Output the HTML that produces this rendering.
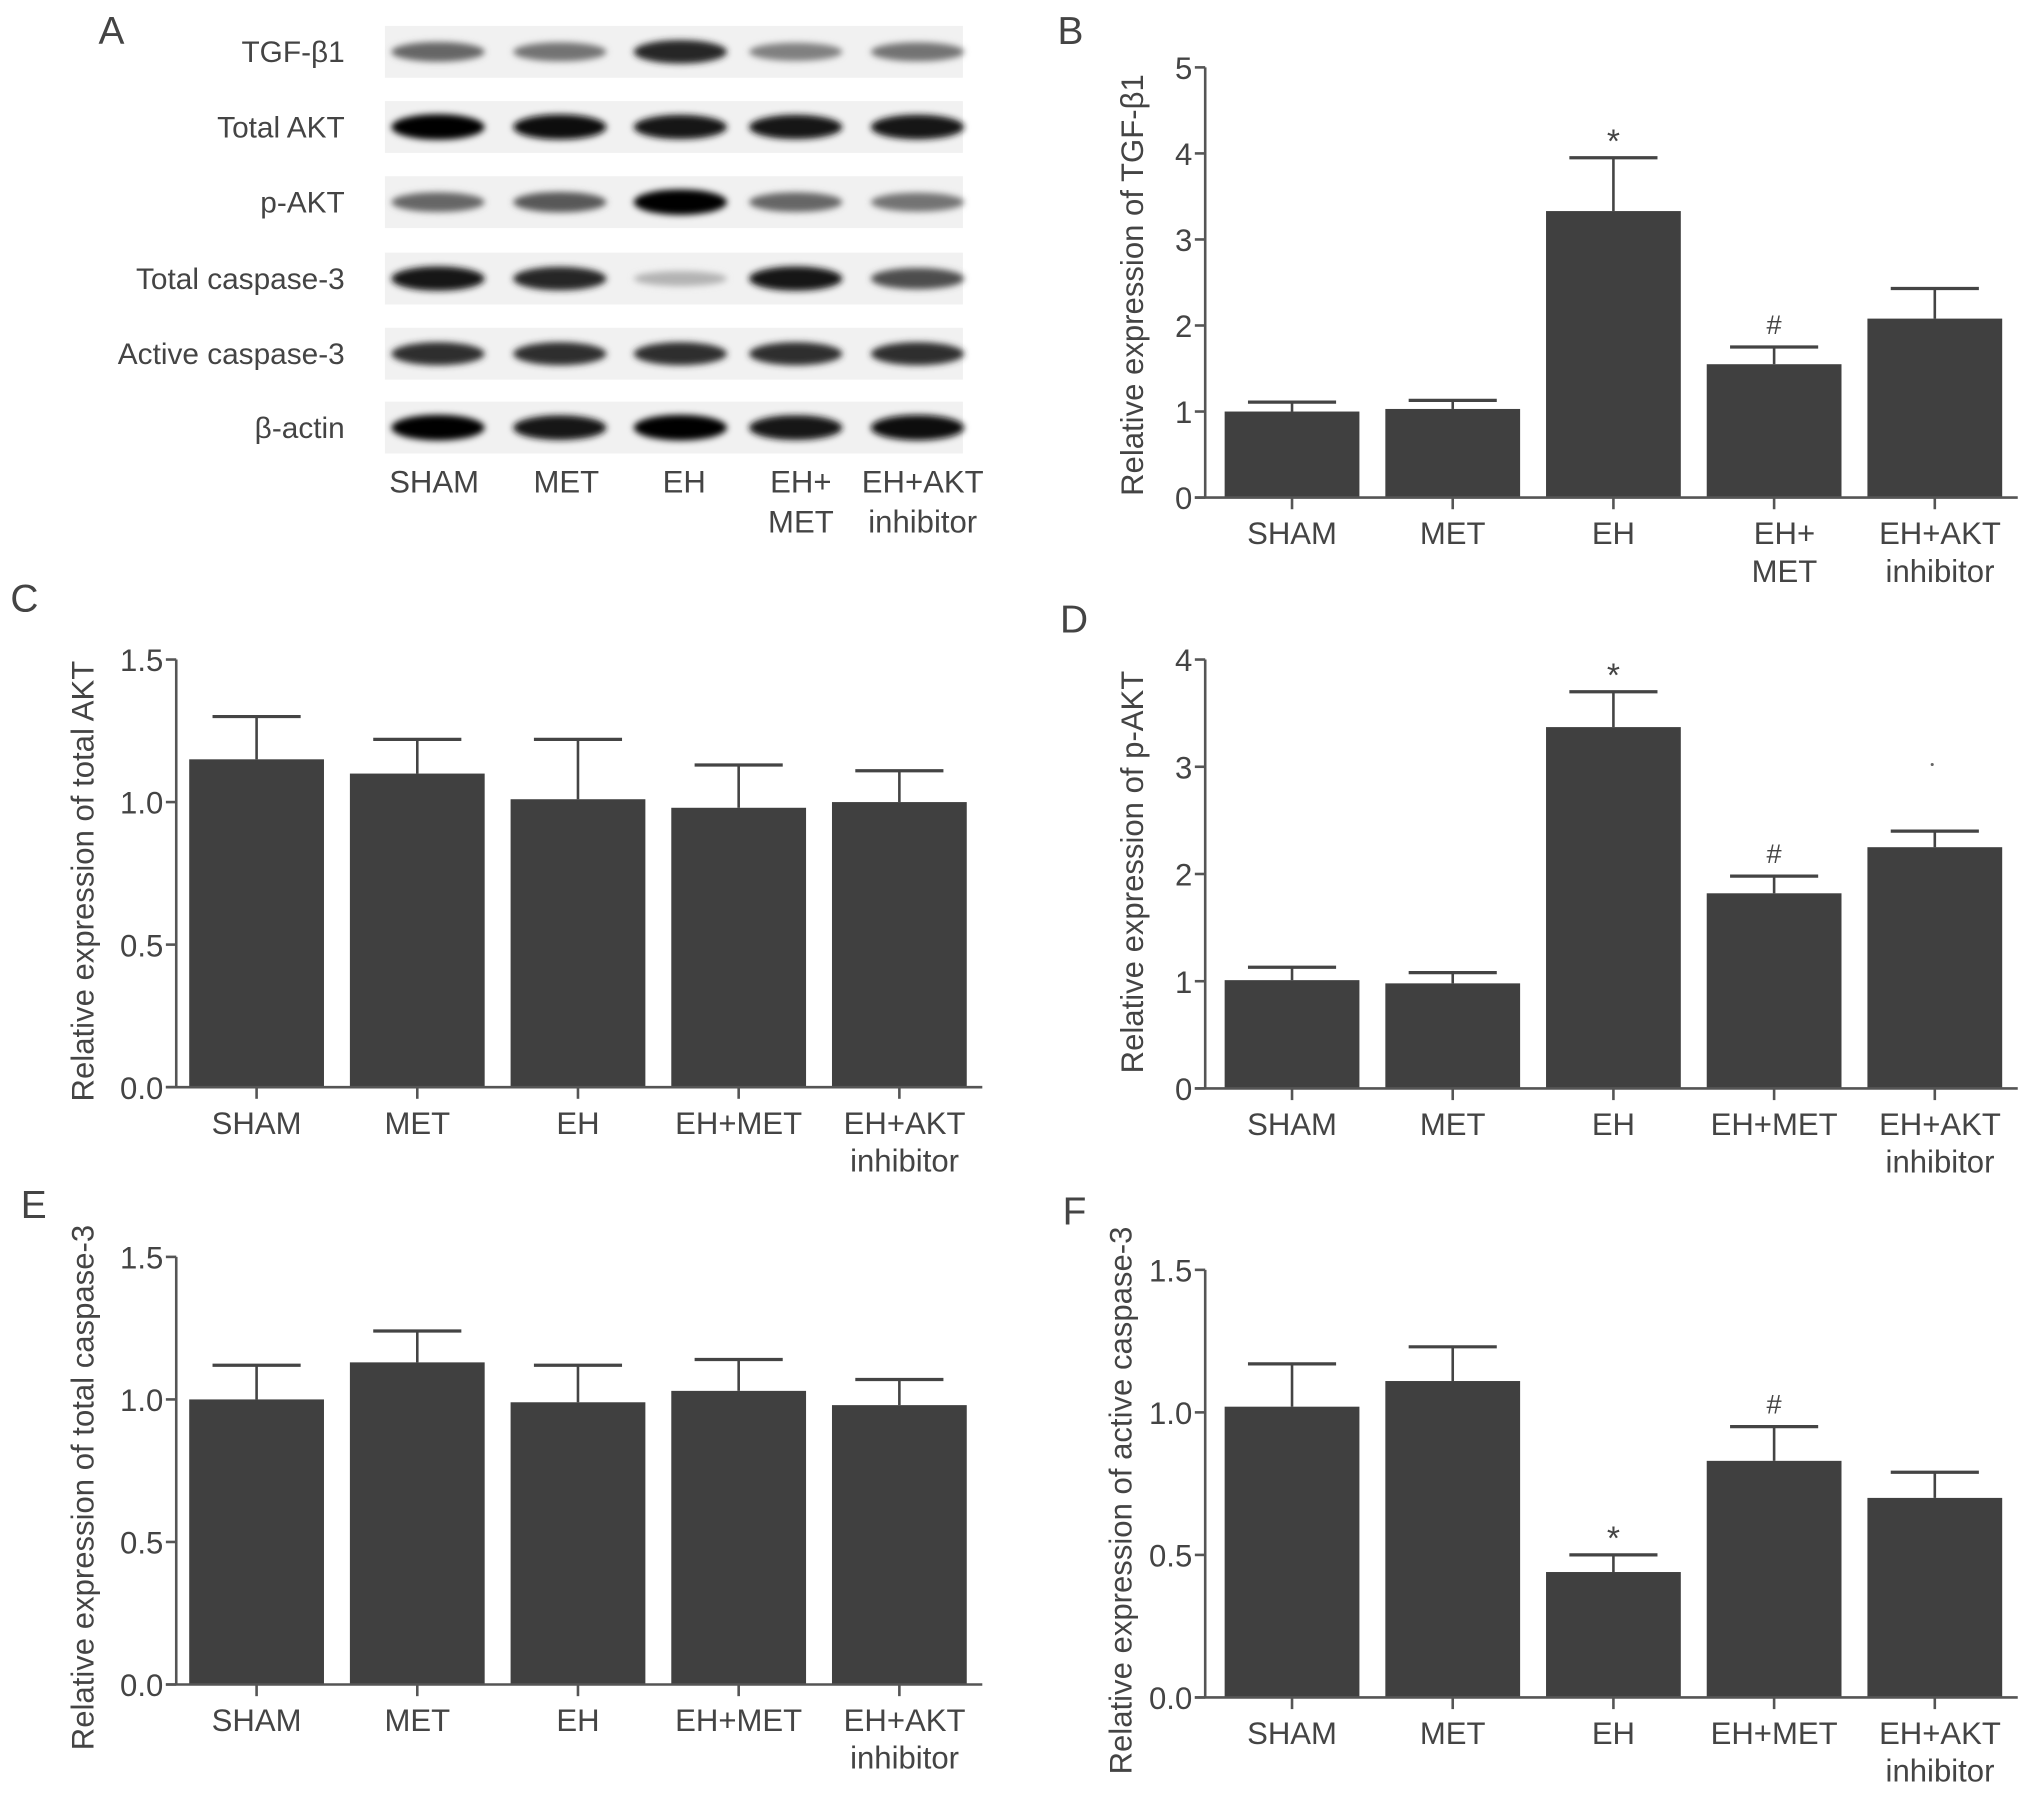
<!DOCTYPE html>
<html><head><meta charset="utf-8">
<style>
html,body{margin:0;padding:0;background:#fff;}
svg{display:block;}
text{font-family:"Liberation Sans","DejaVu Sans",sans-serif;fill:#444;}
</style></head>
<body>
<svg id="fig" width="2032" height="1805" viewBox="0 0 1568 1393" preserveAspectRatio="none" xmlns="http://www.w3.org/2000/svg">
<defs>
<filter id="blur" x="-20%" y="-100%" width="140%" height="300%"><feGaussianBlur stdDeviation="2.5"/></filter>
</defs>
<g id="panelA"></g>
<g id="charts"></g>
</svg>
<script>
const NS='http://www.w3.org/2000/svg';
const svg=document.getElementById('fig');
function mk(tag,attrs,parent,txt){const e=document.createElementNS(NS,tag);for(const k in attrs)e.setAttribute(k,attrs[k]);if(txt!==undefined)e.textContent=txt;(parent||svg).appendChild(e);return e;}

// ---- data ----
const groups=['SHAM','MET','EH','EH+MET','EH+AKT inhibitor'];
const tgfMean=[1.00,1.03,3.33,1.55,2.08];
const tgfErr=[0.11,0.10,0.62,0.20,0.35];
const aktMean=[1.15,1.10,1.01,0.98,1.00];
const aktErr=[0.15,0.12,0.21,0.15,0.11];
const paktMean=[1.01,0.98,3.37,1.82,2.25];
const paktErr=[0.12,0.10,0.33,0.16,0.15];
const casMean=[1.00,1.13,0.99,1.03,0.98];
const casErr=[0.12,0.11,0.13,0.11,0.09];
const actMean=[1.02,1.11,0.44,0.83,0.70];
const actErr=[0.15,0.12,0.06,0.12,0.09];
const ticks5=['0','1','2','3','4','5'];
const ticks4=['0','1','2','3','4'];
const ticks15=['0.0','0.5','1.0','1.5'];
const marksB=['','','*','#',''];
const marksF=['','','*','#',''];
const blotNames=['TGF-β1','Total AKT','p-AKT','Total caspase-3','Active caspase-3','β-actin'];
const blotIntensity=[[0.6,0.55,0.85,0.5,0.55],[0.98,0.95,0.9,0.9,0.92],[0.6,0.65,0.98,0.6,0.55],[0.9,0.85,0.3,0.9,0.7],[0.82,0.82,0.82,0.82,0.82],[0.99,0.92,0.99,0.93,0.97]];

// ---- panel A ----
const A=document.getElementById('panelA');
let t=mk('text',{x:76,y:34,'font-size':30},A,'A');
const rowsY=[40,98,156,215,273,330];
const laneX=[338,432,525,614,708];
blotNames.forEach((n,i)=>{
  const y=rowsY[i];
  const l=mk('text',{x:266,y:y+8,'font-size':23,'text-anchor':'end'},A,n);
  
  const s=mk('rect',{x:297,y:y-20,width:446,height:40,fill:'#f1f1f1'},A);
  
  laneX.forEach((cx,j)=>{
    const v=blotIntensity[i][j];
    const g=Math.round(255*(1-v));
    const b=mk('ellipse',{cx:cx,cy:y,rx:36,ry:4+6*v,fill:`rgb(${g},${g},${g})`,filter:'url(#blur)'},A);
    
  });
});
const aLab=[['SHAM',335,380],['MET',437,380],['EH',528,380],['EH+',618,380],['MET',618,411],['EH+AKT',712,380],['inhibitor',712,411]];
aLab.forEach(a=>{const e=mk('text',{x:a[1],y:a[2],'font-size':24,'text-anchor':'middle'},A,a[0]);});

// ---- bar charts ----
function chart(o){
  const g=mk('g',{},document.getElementById('charts'));
  
  
  const lab=mk('text',{x:o.labX,y:o.labY,'font-size':30},g,o.letter);
  
  const y=v=>o.y0-(v/o.max)*(o.y0-o.yTop);
  const x0=o.ax+o.off, step=124, bw=104;
  o.ticks.forEach(tk=>{
    const yy=y(parseFloat(tk));
    const tl=mk('line',{x1:o.ax-8,x2:o.ax,y1:yy,y2:yy,stroke:'#555','stroke-width':2},g);
    
    const tt=mk('text',{x:o.ax-10,y:yy+9,'font-size':24,'text-anchor':'end'},g,tk);
    
  });
  o.mean.forEach((m,i)=>{
    const bx=x0+i*step, cx=bx+bw/2;
    const r=mk('rect',{x:bx,y:y(m),width:bw,height:o.y0-y(m),fill:'#404040'},g);
    
    
    const top=y(m+o.err[i]);
    const e1=mk('line',{x1:cx,x2:cx,y1:y(m),y2:top,stroke:'#444','stroke-width':2},g);
    
    const e2=mk('line',{x1:cx-34,x2:cx+34,y1:top,y2:top,stroke:'#444','stroke-width':2.5},g);
    
    if(o.marks&&o.marks[i]){
      const s=mk('text',{x:cx,y:top-(o.marks[i]=='*'?4:10),'font-size':o.marks[i]=='*'?26:21,'text-anchor':'middle'},g,o.marks[i]);
      
    }
    const xt=mk('line',{x1:cx,x2:cx,y1:o.y0,y2:o.y0+9,stroke:'#555','stroke-width':2},g);
    
    const lines=o.split&&i==3?['EH+','MET']:(i==4?['EH+AKT','inhibitor']:[groups[i]]);
    lines.forEach((ln,k)=>{
      const xl=mk('text',{x:cx+(i==4?4:(i==3&&o.split?8:0)),y:o.y0+36+k*29,'font-size':24,'text-anchor':'middle'},g,ln);
      
    });
  });
  const ya=mk('line',{x1:o.ax,x2:o.ax,y1:o.yTop,y2:o.y0,stroke:'#555','stroke-width':2},g);
  
  const xa=mk('line',{x1:o.ax-8,x2:x0+4*step+bw+12,y1:o.y0,y2:o.y0,stroke:'#555','stroke-width':2},g);
  
  const cy=o.titleY;
  const yt=mk('text',{x:o.titleX,y:cy,'font-size':24,'text-anchor':'middle',transform:`rotate(-90 ${o.titleX} ${cy})`},g,o.title);
  
}
chart({name:'chart-b-tgf',letter:'B',labX:816,labY:34,ax:930,off:15,yTop:52,y0:384,max:5,ticks:ticks5,mean:tgfMean,err:tgfErr,marks:marksB,split:true,title:'Relative expression of TGF-β1',titleX:882,titleY:220});
chart({name:'chart-c-total-akt',letter:'C',labX:8,labY:472,ax:136,off:10,yTop:509,y0:839,max:1.5,ticks:ticks15,mean:aktMean,err:aktErr,title:'Relative expression of total AKT',titleX:72,titleY:680});
chart({name:'chart-d-p-akt',letter:'D',labX:818,labY:488,ax:930,off:15,yTop:509,y0:840,max:4,ticks:ticks4,mean:paktMean,err:paktErr,marks:marksB,title:'Relative expression of p-AKT',titleX:882,titleY:673});
chart({name:'chart-e-total-caspase3',letter:'E',labX:16,labY:940,ax:136,off:10,yTop:970,y0:1300,max:1.5,ticks:ticks15,mean:casMean,err:casErr,title:'Relative expression of total caspase-3',titleX:72,titleY:1148});
chart({name:'chart-f-active-caspase3',letter:'F',labX:820,labY:945,ax:930,off:15,yTop:980,y0:1310,max:1.5,ticks:ticks15,mean:actMean,err:actErr,marks:marksF,title:'Relative expression of active caspase-3',titleX:873,titleY:1158});
const dot=mk('circle',{cx:1491,cy:590,r:1.2,fill:'#666'});


</script>
</body></html>
